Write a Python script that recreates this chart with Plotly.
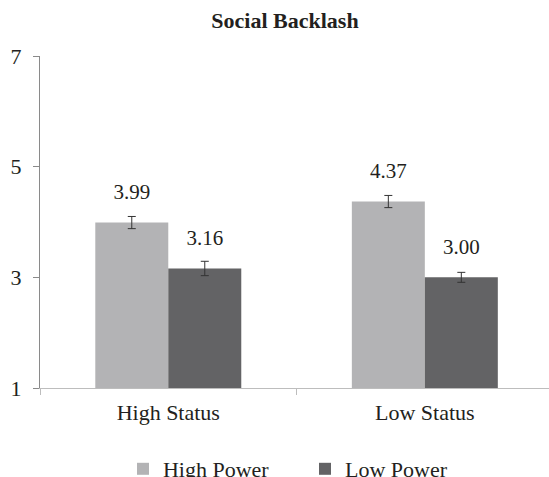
import plotly.graph_objects as go

# Social backlash ratings by status condition and power level
categories = ["High Status", "Low Status"]
high_power = [3.99, 4.37]
low_power = [3.16, 3.00]
high_power_err = [0.11, 0.11]
low_power_err = [0.13, 0.09]
y_ticks = [1, 3, 5, 7]

FONT = "Liberation Serif, Times New Roman, serif"
TEXT = "#231f20"
LIGHT = "#b3b3b5"
DARK = "#636365"
BARGAP = 0.431

fig = go.Figure()

for name, vals, errs, color in [
    ("High Power", high_power, high_power_err, LIGHT),
    ("Low Power", low_power, low_power_err, DARK),
]:
    fig.add_trace(go.Bar(
        x=categories, y=vals, name=name, marker=dict(color=color, line=dict(width=0)),
        offsetgroup=name,
        error_y=dict(type="data", array=errs, visible=True, color="#333333",
                     thickness=1, width=4),
    ))

# value labels above each bar
for name, vals in [("High Power", high_power), ("Low Power", low_power)]:
    fig.add_trace(go.Scatter(
        x=categories, y=vals, mode="markers+text", offsetgroup=name,
        text=[f"{v:.2f}" for v in vals], textposition="top center",
        marker=dict(size=28, opacity=0), textfont=dict(size=21, color=TEXT, family=FONT),
        showlegend=False, hoverinfo="skip",
    ))

fig.update_layout(
    width=549, height=477,
    margin=dict(l=40, r=0, t=56, b=89),
    paper_bgcolor="white", plot_bgcolor="white",
    barmode="group", bargap=BARGAP, bargroupgap=0,
    scattermode="group", scattergap=BARGAP,
    font=dict(family=FONT, size=22, color=TEXT),
    title=dict(text="<b>Social Backlash</b>", xref="container", x=285 / 549,
               xanchor="center", yref="container", y=1 - 20 / 477, yanchor="middle",
               font=dict(family=FONT, size=22, color=TEXT)),
    showlegend=True,
    legend=dict(orientation="h", xref="container", x=0.224, xanchor="left",
                yref="container", y=1 - 469 / 477, yanchor="middle",
                font=dict(family=FONT, size=22, color=TEXT),
                entrywidth=137, itemwidth=30),
    xaxis=dict(type="category", range=[-0.5, 1.484], showline=True, linecolor="#bdbdbd",
               linewidth=1, ticks="outside", tickson="boundaries", ticklen=6,
               tickcolor="#bdbdbd", showgrid=False, zeroline=False, ticklabelstandoff=5,
               tickfont=dict(family=FONT, size=22, color=TEXT)),
    yaxis=dict(range=[1, 7], tickvals=y_ticks, showline=True, linecolor="#8a8a8a",
               linewidth=1, ticks="outside", ticklen=6, tickcolor="#8a8a8a",
               showgrid=False, zeroline=False, ticklabelstandoff=7,
               tickfont=dict(family=FONT, size=22, color=TEXT)),
)

fig.write_html("out.html")
